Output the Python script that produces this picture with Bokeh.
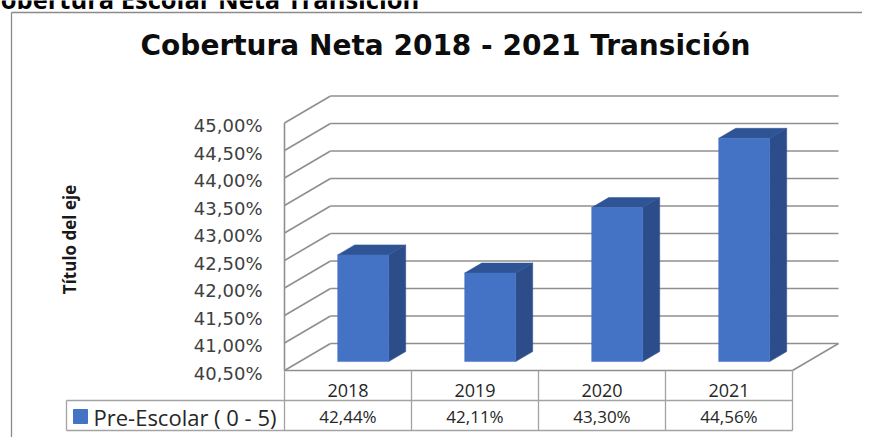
import math
from bokeh.plotting import figure
from bokeh.models import Range1d
from bokeh.embed import file_html
from bokeh.resources import INLINE
from bokeh.core.properties import value

# ---------------- data ----------------
years = ["2018", "2019", "2020", "2021"]
coverage = [42.44, 42.11, 43.30, 44.56]          # percent
value_labels = ["42,44%", "42,11%", "43,30%", "44,56%"]
series_name = "Pre-Escolar ( 0 - 5)"
y_ticks = [40.5, 41.0, 41.5, 42.0, 42.5, 43.0, 43.5, 44.0, 44.5, 45.0]
y_tick_labels = ["40,50%", "41,00%", "41,50%", "42,00%", "42,50%",
                 "43,00%", "43,50%", "44,00%", "44,50%", "45,00%"]
chart_title = "Cobertura Neta 2018 - 2021 Transición"
page_heading = "Cobertura Escolar Neta Transición"
axis_title = "Título del eje"

# ---------------- layout (reference pixels) ----------------
W, H = 862, 437
OFF = 0
CAT0_X = 347.5           # pixel x of first category centre
CAT_PX = 127.0           # pixels per category
BASE_Y = 370.0           # pixel y of axis minimum (front plane)
PCT_PX = 55.0            # pixels per 1 %
Y_MIN, Y_MAX = y_ticks[0], y_ticks[-1]
DEPTH_X, DEPTH_Y = 46.0, 27.0
T1, T2 = 0.33, 0.70      # bar depth span
HALF_W = 25.5            # bar half width (px)

def X(px):
    return (px - CAT0_X) / CAT_PX

def Y(py):
    return Y_MIN + (BASE_Y - py) / PCT_PX

DX = DEPTH_X / CAT_PX
DY = DEPTH_Y / PCT_PX
HW = HALF_W / CAT_PX

p = figure(width=W, height=H,
           x_range=Range1d(X(OFF), X(OFF + W)),
           y_range=Range1d(Y(OFF + H), Y(OFF)),
           output_backend="svg", toolbar_location=None,
           x_axis_type=None, y_axis_type=None, min_border=0)
p.outline_line_color = None
p.background_fill_color = "white"
p.border_fill_color = "white"

GRID = "#8f8f8f"
TABLE = "#a3a3a3"
n = len(years)
left_edge = -0.5
right_edge = n - 0.5

# ---------------- outer chart border ----------------
p.multi_line(xs=[[X(11), X(11)], [X(11), X(880)]],
             ys=[[Y(12), Y(460)], [Y(12), Y(12)]],
             line_color="#8a8a8a", line_width=1.3)

# ---------------- walls / gridlines ----------------
gx, gy = [], []
for v in y_ticks:
    gx.append([left_edge + DX, right_edge + DX]); gy.append([v + DY, v + DY])
    gx.append([left_edge, left_edge + DX]);       gy.append([v, v + DY])
gx.append([left_edge, left_edge]); gy.append([Y_MIN, Y_MAX])
gx.append([right_edge, right_edge + DX]); gy.append([Y_MIN, Y_MIN + DY])
gx.append([left_edge, right_edge]); gy.append([Y_MIN, Y_MIN])
p.multi_line(xs=gx, ys=gy, line_color=GRID, line_width=1.6)

# ---------------- 3D bars ----------------
ddx = (T2 - T1) * DX
ddy = (T2 - T1) * DY
front_l, front_r, bot, top = [], [], [], []
top_xs, top_ys, side_xs, side_ys = [], [], [], []
for i, v in enumerate(coverage):
    fl = i - HW + T1 * DX
    fr = i + HW + T1 * DX
    by = Y_MIN + T1 * DY
    ty = v + T1 * DY
    front_l.append(fl); front_r.append(fr); bot.append(by); top.append(ty)
    top_xs.append([fl, fr, fr + ddx, fl + ddx])
    top_ys.append([ty, ty, ty + ddy, ty + ddy])
    side_xs.append([fr, fr + ddx, fr + ddx, fr])
    side_ys.append([by, by + ddy, ty + ddy, ty])
p.patches(xs=side_xs, ys=side_ys, fill_color="#2C4D89", line_color="#2C4D89", line_width=0.5)
p.patches(xs=top_xs, ys=top_ys, fill_color="#2F5496", line_color="#2F5496", line_width=0.5)
p.quad(left=front_l, right=front_r, bottom=bot, top=top,
       fill_color="#4472C4", line_color="#4472C4", line_width=0.5)

# ---------------- value axis labels ----------------
p.text(x=[X(262)] * len(y_ticks), y=[v - 2.5 / PCT_PX for v in y_ticks], text=y_tick_labels,
       text_align="right", text_baseline="middle", text_font=value("DejaVu Sans"),
       text_font_size="18px", text_color="#404040")

p.text(x=[X(69)], y=[Y(239)], text=[axis_title], angle=math.pi / 2,
       text_align="center", text_baseline="middle", text_font=value("Open Sans"),
       text_font_style="bold", text_font_size="17px", text_color="#1a1a1a")

# ---------------- titles ----------------
p.text(x=[X(445)], y=[Y(45)], text=[chart_title], text_align="center",
       text_baseline="middle", text_font=value("DejaVu Sans"), text_font_style="bold",
       text_font_size="28px", text_color="#0d0d0d")
p.text(x=[X(-16)], y=[Y(-2)], text=[page_heading], text_align="left",
       text_baseline="middle", text_font=value("Open Sans"), text_font_style="bold",
       text_font_size="25.5px", text_color="#000000")

# ---------------- data table ----------------
row_top, row_mid, row_bot = Y(370), Y(400), Y(430)
tx, ty_ = [], []
for b in range(n + 1):
    tx.append([b - 0.5, b - 0.5]); ty_.append([row_top, row_bot])
tx.append([X(66), right_edge]); ty_.append([row_mid, row_mid])
tx.append([X(66), right_edge]); ty_.append([row_bot, row_bot])
tx.append([X(66), X(66)]); ty_.append([row_mid, row_bot])
p.multi_line(xs=tx, ys=ty_, line_color=TABLE, line_width=1.3)

cats = list(range(n))
p.text(x=cats, y=[Y(390)] * n, text=years, text_align="center", text_baseline="middle",
       text_font=value("Open Sans"), text_font_size="18px", text_color="#262626")
p.text(x=cats, y=[Y(416)] * n, text=value_labels, text_align="center", text_baseline="middle",
       text_font=value("Open Sans"), text_font_size="17px", text_color="#262626")

p.quad(left=[X(73)], right=[X(87)], bottom=[Y(423)], top=[Y(409)],
       fill_color="#4472C4", line_color="#4472C4")
p.text(x=[X(93)], y=[Y(416)], text=[series_name], text_align="left", text_baseline="middle",
       text_font=value("Open Sans"), text_font_size="22px", text_color="#262626")

open("out.html", "w").write(file_html(p, INLINE))
